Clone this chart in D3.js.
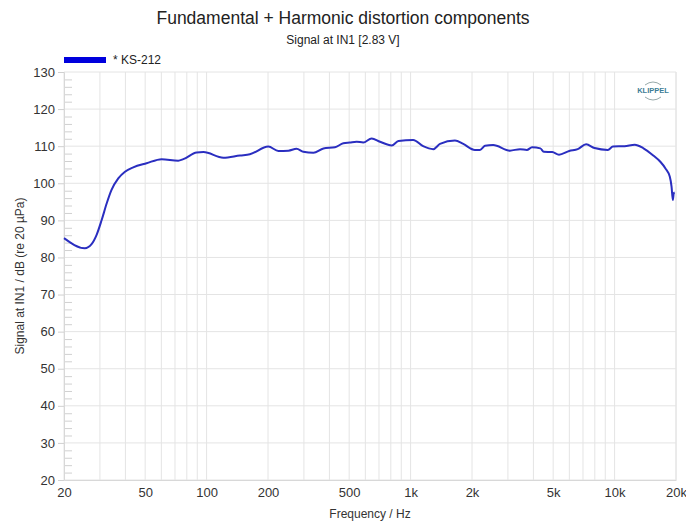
<!DOCTYPE html>
<html>
<head>
<meta charset="utf-8">
<script src="https://cdn.jsdelivr.net/npm/d3@7"></script>
<style>
  body { margin: 0; background: #fff; }
  text { font-family: "Liberation Sans", Arial, sans-serif; }
</style>
</head>
<body>
<div id="chart"></div>
<script>
// curve (Hz, dB)
const freqs = [20, 25.3, 27.3, 28.9, 30.6, 32.4, 34.2, 36.9, 39.8, 43.7, 50.8, 60.2, 72.6, 76.9, 89.4, 96.5,
  120.8, 145.8, 163, 200.7, 225, 252, 276, 298, 334, 374, 426, 468, 504, 544, 586, 644, 708, 808, 872,
  1030, 1152, 1292, 1393, 1650, 1812, 2066, 2188, 2316, 2540, 3068, 3440, 3716, 3938, 4328, 4496, 4950,
  5340, 5992, 6596, 7256, 7972, 9272, 9816, 11200, 12560, 13800, 15540, 16760, 17760, 18640, 19020,
  19300, 19500, 19700];
const levels = [85.2, 82.5, 83.6, 86.1, 90.1, 94.6, 98.2, 101.3, 103.1, 104.3, 105.4, 106.5, 106.1, 106.5, 108.3, 108.4,
  106.9, 107.5, 107.8, 109.9, 108.7, 108.8, 109.3, 108.5, 108.2, 109.4, 109.7, 110.8, 111.0, 111.2, 111.0, 112.1, 111.2, 110.2, 111.4,
  111.7, 110.0, 109.2, 110.6, 111.5, 110.6, 109.0, 109.0, 110.1, 110.3, 108.8, 109.2, 109.0, 109.7, 109.4, 108.5, 108.4,
  107.7, 108.7, 109.2, 110.5, 109.5, 109.0, 109.9, 110.0, 110.4, 109.5, 107.4, 105.8, 104.0, 101.8, 99.1,
  95.5, 97.3, 97.5];

const xTickValues = [20, 50, 100, 200, 500, 1000, 2000, 5000, 10000, 20000];
const xTickLabels = ["20", "50", "100", "200", "500", "1k", "2k", "5k", "10k", "20k"];
const xGridValues = [20, 30, 40, 50, 60, 70, 80, 90, 100, 200, 300, 400, 500, 600, 700, 800, 900,
  1000, 2000, 3000, 4000, 5000, 6000, 7000, 8000, 9000, 10000, 20000];
const yTickValues = [20, 30, 40, 50, 60, 70, 80, 90, 100, 110, 120, 130];

const W = 686, H = 524;
const plot = {left: 64, right: 676, top: 72, bottom: 480};

const svg = d3.select("#chart").append("svg")
  .attr("width", W).attr("height", H);

const x = d3.scaleLog().domain([20, 20000]).range([plot.left, plot.right]);
const y = d3.scaleLinear().domain([20, 130]).range([plot.bottom, plot.top]);

// grid
svg.append("g").selectAll("line").data(xGridValues).enter().append("line")
  .attr("x1", d => x(d)).attr("x2", d => x(d))
  .attr("y1", plot.top).attr("y2", plot.bottom)
  .attr("stroke", "#e4e4e4").attr("stroke-width", 1);

svg.append("g").selectAll("line").data(yTickValues).enter().append("line")
  .attr("x1", plot.left).attr("x2", plot.right)
  .attr("y1", d => y(d)).attr("y2", d => y(d))
  .attr("stroke", "#e4e4e4").attr("stroke-width", 1);

// minor ticks every 2 dB
const minor = d3.range(22, 130, 2).filter(v => v % 10 !== 0);
svg.append("g").selectAll("line").data(minor).enter().append("line")
  .attr("x1", plot.left).attr("x2", plot.left + 8)
  .attr("y1", d => y(d) + 0.5).attr("y2", d => y(d) + 0.5)
  .attr("stroke", "#d0d0d0");

// axes
const yAxis = svg.append("g")
  .attr("transform", `translate(${plot.left},0)`)
  .call(d3.axisLeft(y).tickValues(yTickValues).tickSize(6).tickPadding(3));
yAxis.select(".domain").attr("stroke", "#d8d8d8");
yAxis.selectAll(".tick line").attr("stroke", "#d0d0d0");
yAxis.selectAll("text").attr("fill", "#333").style("font-size", "13px");

const xAxis = svg.append("g")
  .attr("transform", `translate(0,${plot.bottom})`)
  .call(d3.axisBottom(x).tickValues(xTickValues).tickFormat((d, i) => xTickLabels[i]).tickSize(0).tickPadding(8));
xAxis.select(".domain").attr("stroke", "#d8d8d8");
xAxis.selectAll("text").attr("fill", "#333").style("font-size", "13px");

svg.append("line")
  .attr("x1", plot.right).attr("x2", plot.right)
  .attr("y1", plot.top).attr("y2", plot.bottom)
  .attr("stroke", "#e4e4e4");

// curve
const line = d3.line()
  .x((d, i) => x(d))
  .y((d, i) => y(levels[i]))
  .curve(d3.curveMonotoneX);

svg.append("path")
  .datum(freqs)
  .attr("d", line)
  .attr("fill", "none")
  .attr("stroke", "#2a2ec0")
  .attr("stroke-width", 2)
  .attr("stroke-linejoin", "round");

// titles
svg.append("text").attr("x", 343).attr("y", 24).attr("text-anchor", "middle")
  .style("font-size", "17.5px").attr("fill", "#222")
  .text("Fundamental + Harmonic distortion components");
svg.append("text").attr("x", 343).attr("y", 44).attr("text-anchor", "middle")
  .style("font-size", "12px").attr("fill", "#222")
  .text("Signal at IN1 [2.83 V]");

// legend
svg.append("rect").attr("x", 64).attr("y", 57).attr("width", 42).attr("height", 6).attr("fill", "#0000dd");
svg.append("text").attr("x", 113).attr("y", 64).style("font-size", "12px").attr("fill", "#222")
  .text("* KS-212");

// axis labels
svg.append("text").attr("x", 370).attr("y", 518).attr("text-anchor", "middle")
  .style("font-size", "12px").attr("fill", "#333").text("Frequency / Hz");
svg.append("text")
  .attr("transform", "translate(24,276) rotate(-90)")
  .attr("text-anchor", "middle")
  .style("font-size", "12px").attr("fill", "#333")
  .text("Signal at IN1 / dB (re 20 µPa)");

// logo
const logo = svg.append("g").attr("transform", "translate(653,90)");
logo.append("path").attr("d", "M-8,-5 Q0,-11 8,-5").attr("fill", "none").attr("stroke", "#9aa");
logo.append("text").attr("x", 0).attr("y", 3).attr("text-anchor", "middle")
  .style("font-size", "7.5px").style("font-weight", "bold").attr("fill", "#3d7d96").text("KLIPPEL");
logo.append("path").attr("d", "M-8,7 Q0,13 8,7").attr("fill", "none").attr("stroke", "#9aa");
</script>
</body>
</html>
